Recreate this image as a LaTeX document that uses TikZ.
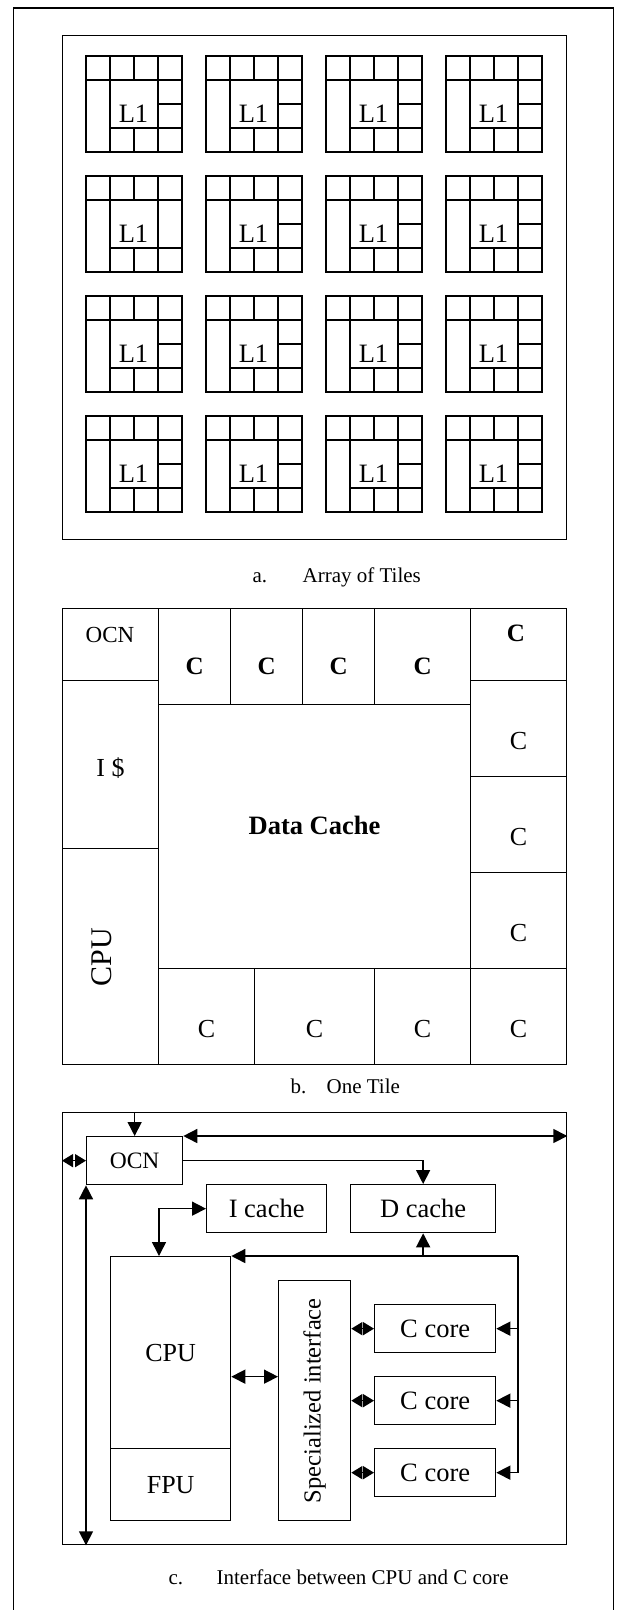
\documentclass[tikz,border=0pt]{standalone}
\usepackage{fontspec}
\setmainfont{Liberation Serif}
\usetikzlibrary{arrows.meta, positioning, calc}

\begin{document}
\begin{tikzpicture}[x=1pt, y=-1pt, line width=1.3pt]
% Node styles
\tikzstyle{cell} = [rectangle, draw=black, line width=1.3pt, inner sep=0pt, anchor=north west]
\tikzstyle{lbl} = [inner sep=0pt, font=\fontsize{26}{30}\selectfont]
\tikzstyle{boldlbl} = [inner sep=0pt, font=\fontsize{25}{30}\selectfont\bfseries]
\tikzstyle{caption} = [inner sep=0pt, anchor=base west, font=\fontsize{21}{25}\selectfont]
\tikzstyle{arrow} = [line width=1.5pt, -{Triangle[length=14pt, width=14pt]}]
\tikzstyle{darrow} = [line width=1.5pt, {Triangle[length=14pt, width=14pt]}-{Triangle[length=14pt, width=14pt]}]
\tikzstyle{sarrow} = [line width=1.5pt, {Triangle[length=11pt, width=13pt]}-{Triangle[length=11pt, width=13pt]}]

\useasboundingbox (0,0) rectangle (617,1610);
\draw (13.5,8) rectangle (613.5,1630);

% a. Array of tiles
\node[cell, minimum width=504pt, minimum height=504pt] (framea) at (62,34.5) {};
\foreach \i in {0,...,3}
  \foreach \j in {0,...,3} {
    \begin{scope}[shift={(86+120*\i,56+120*\j)}]
      \draw (0,0) rectangle (96,96);
      \draw (0,24) -- (96,24);
      \draw (24,0) -- (24,96) (72,0) -- (72,96);
      \draw (48,0) -- (48,24) (48,72) -- (48,96);
      \draw (24,72) -- (96,72);
      \ifnum\i\j=1\relax\else\draw (72,48) -- (96,48);\fi
      \node[lbl, font=\fontsize{26.5}{30}\selectfont] (l1-\i-\j) at (47.5,58) {L1};
    \end{scope}
  }
\node[caption] (capa) at (252,582) {a.};
\node[caption] (capat) at (302,582) {Array of Tiles};

% b. One tile
\node[cell, minimum width=504pt, minimum height=456pt] (frameb) at (62,608) {};
\foreach \nm/\x/\y/\w/\h in {ocnb/62/608/96/72, ct1/158/608/72/96, ct2/230/608/72/96,
    ct3/302/608/72/96, ct4/374/608/96/96, ctr/470/608/96/72, cr1/470/680/96/96,
    cr2/470/776/96/96, cr3/470/872/96/96, cr4/470/968/96/96, ib/62/680/96/168,
    cpub/62/848/96/216, dc/158/704/312/264, cb1/158/968/96/96, cb2/254/968/120/96,
    cb3/374/968/96/96}
  \node[cell, minimum width=\w pt, minimum height=\h pt] (\nm) at (\x,\y) {};

\node[lbl, font=\fontsize{23}{26}\selectfont] (ocnbt) at (110,635) {OCN};
\foreach \nm in {ct1, ct2, ct3, ct4}
  \node[boldlbl] (\nm t) at ([yshift=-10pt]\nm.center) {C};
\node[boldlbl] (ctrt) at (516,633) {C};
\foreach \nm in {cr1, cr2, cr3, cr4, cb1, cb2, cb3}
  \node[lbl] (\nm t) at ([yshift=-12pt]\nm.center) {C};
\node[lbl] (ibt) at (110.5,768) {I \$};
\node[boldlbl, font=\fontsize{26.5}{30}\selectfont\bfseries] (dct) at (314.5,825) {Data Cache};
\node[lbl, font=\fontsize{30}{34}\selectfont, rotate=90] (cpubt) at (101.5,957) {CPU};
\node[caption] (capb) at (290,1093) {b.};
\node[caption] (capbt) at (326,1093) {One Tile};

% c. Interface between CPU and C core
\node[cell, minimum width=504pt, minimum height=432pt] (framec) at (62,1112) {};
\node[cell, minimum width=96pt, minimum height=48pt, font=\fontsize{23.5}{26}\selectfont] (ocn) at (86,1136) {OCN};
\node[cell, minimum width=120pt, minimum height=48pt, font=\fontsize{26.5}{30}\selectfont] (icache) at (206,1184) {I cache};
\node[cell, minimum width=145pt, minimum height=48pt, font=\fontsize{26.5}{30}\selectfont] (dcache) at (350,1184) {D cache};
\node[cell, minimum width=120pt, minimum height=192pt, font=\fontsize{26}{30}\selectfont] (cpu) at (110,1256) {CPU};
\node[cell, minimum width=120pt, minimum height=72pt, font=\fontsize{26}{30}\selectfont] (fpu) at (110,1448) {FPU};
\node[cell, minimum width=72pt, minimum height=240pt] (spec) at (278,1280) {};
\node[lbl, font=\fontsize{24.5}{28}\selectfont, rotate=90] (spect) at (spec.center) {Specialized interface};
\node[cell, minimum width=121pt, minimum height=48pt, font=\fontsize{26.5}{30}\selectfont] (ccore1) at (374,1304) {C core};
\node[cell, minimum width=121pt, minimum height=48pt, font=\fontsize{26.5}{30}\selectfont] (ccore2) at (374,1376) {C core};
\node[cell, minimum width=121pt, minimum height=48pt, font=\fontsize{26.5}{30}\selectfont] (ccore3) at (374,1448) {C core};
\coordinate (busr) at (518,1256);

% Arrows
\draw [arrow] (ocn.north |- framec.north) -- (ocn.north);
\draw [darrow] (ocn.north east) -- (ocn.north east -| framec.east);
\draw [sarrow] (ocn.west -| framec.west) -- (ocn.west);
\draw [arrow] (ocn.east) -| (dcache.north);
\draw [darrow] (ocn.south west) -- (ocn.south west |- framec.south);
\draw [darrow] (icache.west) -| ([xshift=49pt]cpu.north west);
\draw [arrow] (busr) -- (cpu.north east);
\draw [arrow] (dcache.south |- busr) -- (dcache.south);
\draw [arrow] (busr) |- (ccore3.east);
\draw [arrow] (ccore1.east -| busr) -- (ccore1.east);
\draw [arrow] (ccore2.east -| busr) -- (ccore2.east);
\draw [darrow] ([yshift=-24pt]cpu.east) -- ([yshift=-24pt]cpu.east -| spec.west);
\draw [sarrow] (ccore1.west -| spec.east) -- (ccore1.west);
\draw [sarrow] (ccore2.west -| spec.east) -- (ccore2.west);
\draw [sarrow] (ccore3.west -| spec.east) -- (ccore3.west);
\node[caption] (capc) at (168,1584) {c.};
\node[caption] (capct) at (216,1584) {Interface between CPU and C core};
\end{tikzpicture}
\end{document}
